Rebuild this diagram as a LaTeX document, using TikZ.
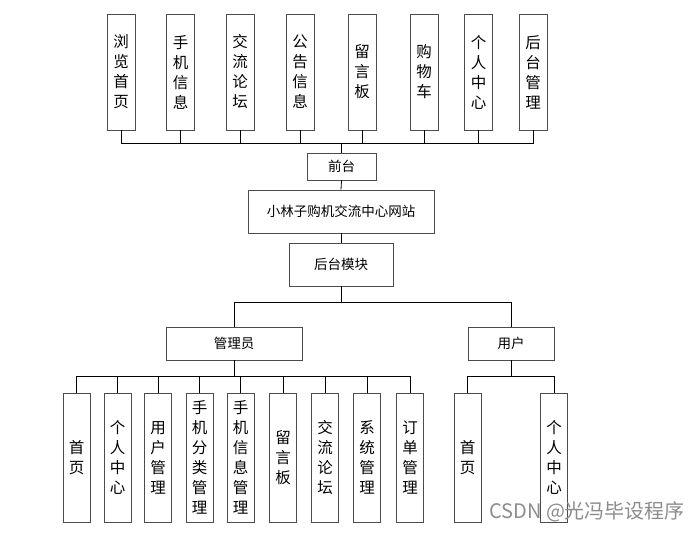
\documentclass[tikz,border=0pt]{standalone}
\usepackage{fontspec}
\newfontfamily\cjk{Noto Sans CJK SC}
\usetikzlibrary{positioning}

\tikzset{
  vbox/.style={draw=black!70, line width=0.9pt, fill=white, inner sep=0pt,
    minimum width=28pt, align=center, font=\cjk\fontsize{15.5}{20}\selectfont},
  hbox/.style={draw=black!70, line width=0.9pt, fill=white, inner sep=0pt,
    font=\cjk\fontsize{13.5}{15}\selectfont},
  link/.style={draw=black, line width=0.8pt}
}

\begin{document}
\begin{tikzpicture}[x=1pt,y=-1pt]
  \useasboundingbox (0,0) rectangle (696,533);

  \node[hbox, minimum width=69pt, minimum height=27pt] (qt) at (341.5,166.5) {前台};
  \node[hbox, minimum width=186pt, minimum height=43pt] (site) at (341,211.5) {小林子购机交流中心网站};
  \node[hbox, minimum width=104pt, minimum height=43pt] (ht) at (341,264.5) {后台模块};
  \node[hbox, minimum width=136pt, minimum height=33pt] (adm) at (234,343.5) {管理员};
  \node[hbox, minimum width=86pt, minimum height=33pt] (usr) at (511,343.5) {用户};

  \foreach \x/\t [count=\i] in {121/浏\\览\\首\\页, 180.5/手\\机\\信\\息,
      240/交\\流\\论\\坛, 300/公\\告\\信\\息, 362/留\\言\\板, 424/购\\物\\车,
      478.5/个\\人\\中\\心, 533/后\\台\\管\\理}
  {
    \node[vbox, minimum height=116pt] (top\i) at (\x,72) {\t};
    \draw[link] (top\i.south) -- ++(0,13) -| (qt.north);
  }

  \draw[link] (qt.south) -- (site.north);
  \draw[link] (site.south) -- (ht.north);
  \draw[link] (ht.south) -- ++(0,16) -| (adm.north);
  \draw[link] (ht.south) -- ++(0,16) -| (usr.north);

  \foreach \x/\t [count=\i] in {76.5/首\\页, 117.5/个\\人\\中\\心, 158/用\\户\\管\\理,
      199.5/手\\机\\分\\类\\管\\理, 240.5/手\\机\\信\\息\\管\\理, 283/留\\言\\板,
      325/交\\流\\论\\坛, 367/系\\统\\管\\理, 410/订\\单\\管\\理}
  {
    \node[vbox, minimum width=27pt, minimum height=129pt] (am\i) at (\x,457.5) {\t};
    \draw[link] (adm.south) -- ++(0,16) -| (am\i.north);
  }

  \foreach \x/\t [count=\i] in {467.5/首\\页, 554/个\\人\\中\\心}
  {
    \node[vbox, minimum width=27pt, minimum height=129pt] (um\i) at (\x,457.5) {\t};
    \draw[link] (usr.south) -- ++(0,16) -| (um\i.north);
  }

  \node[anchor=west, text=black!45, inner sep=0pt, font=\cjk\fontsize{20}{22}\selectfont] (mark) at (489,512) {CSDN @光冯毕设程序};
\end{tikzpicture}
\end{document}
